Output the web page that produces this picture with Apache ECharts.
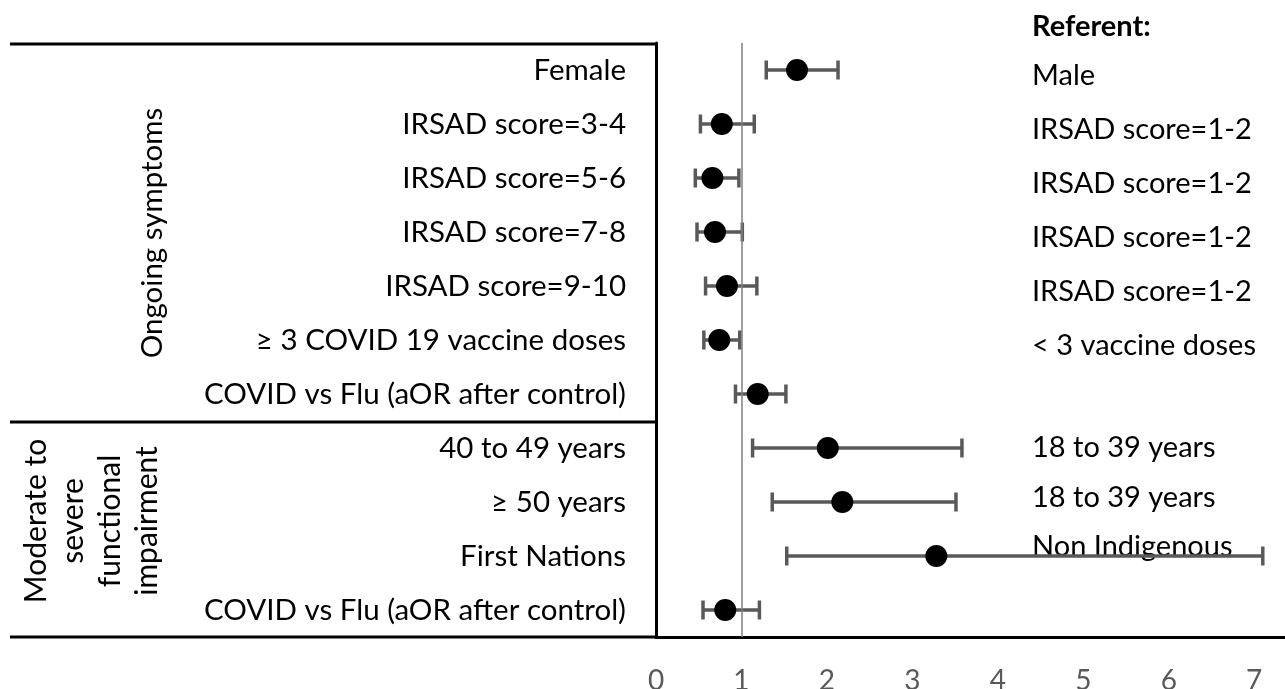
<!DOCTYPE html>
<html>
<head>
<meta charset="utf-8">
<script src="https://cdn.jsdelivr.net/npm/echarts@6/dist/echarts.min.js"></script>
<style>html,body{margin:0;padding:0;background:#fff}#c{width:1285px;height:689px}</style>
</head>
<body>
<div id="c"></div>
<script>
const categories = ['Female','IRSAD score=3-4','IRSAD score=5-6','IRSAD score=7-8','IRSAD score=9-10','\u2265 3 COVID 19 vaccine doses','COVID vs Flu (aOR after control)','40 to 49 years','\u2265 50 years','First Nations','COVID vs Flu (aOR after control)'];
const referents = ['Male','IRSAD score=1-2','IRSAD score=1-2','IRSAD score=1-2','IRSAD score=1-2','< 3 vaccine doses','','18 to 39 years','18 to 39 years','Non Indigenous',''];
const estimates = [1.65, 0.77, 0.66, 0.69, 0.83, 0.74, 1.19, 2.01, 2.18, 3.28, 0.81];
const lowerCI   = [1.29, 0.52, 0.46, 0.48, 0.58, 0.56, 0.93, 1.13, 1.36, 1.53, 0.55];
const upperCI   = [2.13, 1.15, 0.97, 1.01, 1.18, 0.98, 1.52, 3.58, 3.51, 7.10, 1.21];
const groupLabels = ['Ongoing symptoms', 'Moderate to\nsevere\nfunctional\nimpairment'];
const referentTitle = 'Referent:';

// label style keys (vertical nudges of the referent column, as in the original)
const referentStyleKeys = ['dn','dn','dn','dn','dn','dn','n','n','up1','up2','n'];

const FONT = 'Lato';
const chart = echarts.init(document.getElementById('c'), null, {renderer:'canvas'});

function renderItem(params, api) {
  const y = api.value(2);
  const p1 = api.coord([api.value(0), y]);
  const p2 = api.coord([api.value(1), y]);
  const h = 9.5;
  const style = {stroke:'#595959', lineWidth:3.5, fill:null};
  return {type:'group', children:[
    {type:'line', shape:{x1:p1[0], y1:p1[1], x2:p2[0], y2:p2[1]}, style},
    {type:'line', shape:{x1:p1[0], y1:p1[1]-h, x2:p1[0], y2:p1[1]+h}, style},
    {type:'line', shape:{x1:p2[0], y1:p2[1]-h, x2:p2[0], y2:p2[1]+h}, style}
  ]};
}

const refText = {color:'#000', fontSize:29, fontFamily:FONT};
const option = {
  animation:false,
  grid:{left:656, right:0, top:43, bottom:52, containLabel:false, outerBoundsMode:'none'},
  xAxis:{type:'value', min:0, max:7.36, interval:1,
    axisLine:{show:true, onZero:false, lineStyle:{color:'#000', width:3}},
    axisTick:{show:false}, splitLine:{show:false},
    axisLabel:{color:'#595959', fontSize:28, fontFamily:FONT, margin:30,
      formatter:v => Number.isInteger(v) ? String(v) : ''}},
  yAxis:[
    {type:'category', data:categories, inverse:true, position:'left',
      axisLine:{show:true, lineStyle:{color:'#000', width:3}},
      axisTick:{show:false}, splitLine:{show:false},
      axisLabel:{color:'#000', fontSize:29.5, fontFamily:FONT, margin:30}},
    {type:'category', data:referents, inverse:true, position:'right', offset:-253,
      axisLine:{show:false}, axisTick:{show:false}, splitLine:{show:false},
      axisLabel:{color:'#000', fontSize:29, fontFamily:FONT, margin:0, align:'left',
        formatter:(v, i) => v ? '{' + referentStyleKeys[i] + '|' + v + '}' : '',
        rich:{
          n:Object.assign({}, refText),
          dn:Object.assign({padding:[11,0,0,0]}, refText),
          up1:Object.assign({padding:[0,0,8,0]}, refText),
          up2:Object.assign({padding:[0,0,19,0]}, refText)
        }}}
  ],
  series:[
    {type:'custom', renderItem, yAxisIndex:0,
      data:lowerCI.map((l,i)=>[l, upperCI[i], i]), encode:{x:[0,1], y:2}, z:2, clip:false},
    {type:'scatter', yAxisIndex:0, symbol:'circle', symbolSize:22,
      itemStyle:{color:'#000', opacity:1},
      data:estimates.map((v,i)=>[v,i]), z:3,
      markLine:{silent:true, symbol:'none', label:{show:false},
        lineStyle:{color:'#7f7f7f', width:1.5, type:'solid'},
        data:[{xAxis:1}]}}
  ],
  graphic:[
    {type:'line', shape:{x1:10, y1:44, x2:657, y2:44}, style:{stroke:'#000', lineWidth:3}},
    {type:'line', shape:{x1:10, y1:422, x2:657, y2:422}, style:{stroke:'#000', lineWidth:3}},
    {type:'line', shape:{x1:10, y1:637, x2:657, y2:637}, style:{stroke:'#000', lineWidth:3}},
    {type:'text', x:152, y:233, rotation:Math.PI/2,
      style:{text:groupLabels[0], fontSize:29.5, fontFamily:FONT, fill:'#000', align:'center', verticalAlign:'middle'}},
    {type:'text', x:92, y:521, rotation:Math.PI/2,
      style:{text:groupLabels[1], fontSize:30, fontFamily:FONT, fill:'#000', align:'center', verticalAlign:'middle', lineHeight:37}},
    {type:'text', x:1032, y:27,
      style:{text:referentTitle, fontSize:29, fontWeight:'bold', fontFamily:FONT, fill:'#000', align:'left', verticalAlign:'middle'}}
  ]
};
chart.setOption(option);
</script>
</body>
</html>
